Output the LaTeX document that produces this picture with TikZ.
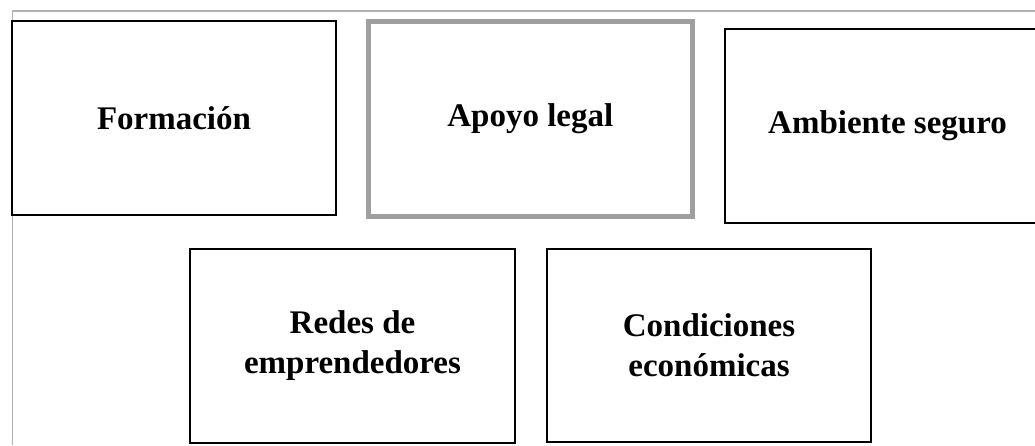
\documentclass[tikz,border=0pt]{standalone}
\usepackage{fontspec}
\setmainfont{Liberation Serif}
\begin{document}
\begin{tikzpicture}[x=1pt,y=-1pt,
  card/.style={draw=black,line width=2.6pt,rectangle,inner sep=0pt,align=center,
    font=\fontsize{33}{40}\selectfont\bfseries},
  graycard/.style={card,draw=gray!75,line width=5pt},
  frameline/.style={draw=gray!60,line width=1.4pt}]
\useasboundingbox[fill=white] (0,0) rectangle (1035,445);
\begin{scope}
\clip (0,0) rectangle (1035,445);
\coordinate (fbl) at (12.5,445);
\coordinate (fc) at (12.5,11);
\coordinate (ftr) at (1035,11);
\draw[frameline] (fbl) -- (fc) -- (ftr);
\node[card,minimum width=324pt,minimum height=194pt] (formacion) at (174,118) {Formación};
\node[graycard,minimum width=323.5pt,minimum height=195pt] (apoyo) at (530.3,118.9) {Apoyo legal};
\node[card,minimum width=325pt,minimum height=194pt] (ambiente) at (887.5,126) {Ambiente seguro};
\node[card,minimum width=325pt,minimum height=194pt] (redes) at (352.5,346) {Redes de\\emprendedores};
\node[card,minimum width=324pt,minimum height=193pt] (condiciones) at (709,345.5) {Condiciones\\económicas};
\end{scope}
\end{tikzpicture}
\end{document}
